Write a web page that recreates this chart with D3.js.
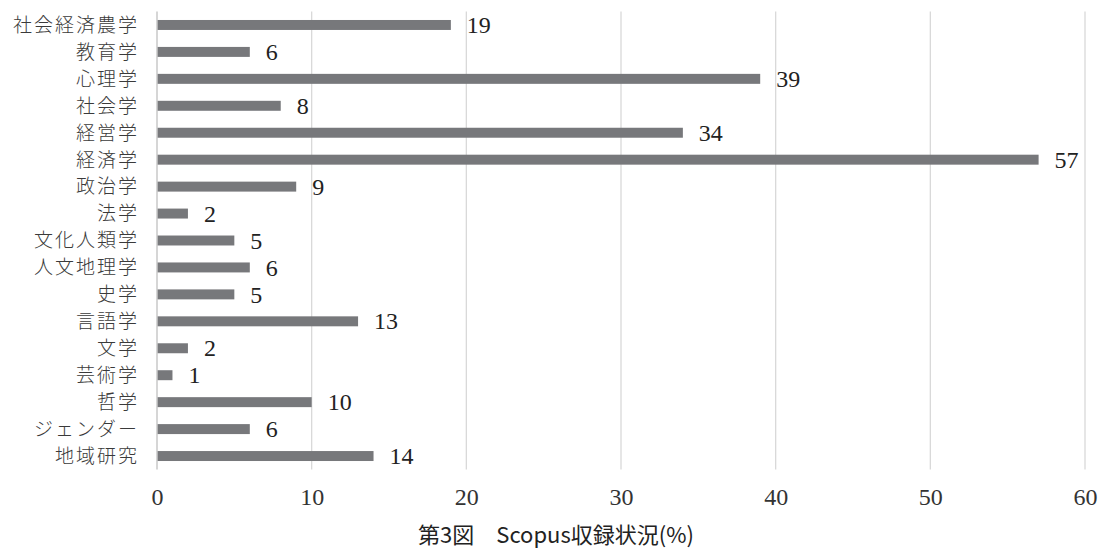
<!DOCTYPE html>
<html>
<head>
<meta charset="utf-8">
<script src="https://cdn.jsdelivr.net/npm/d3@7"></script>
<style>
  html, body { margin: 0; padding: 0; background: #fff; }
  svg { display: block; }
  .tick text { font-family: 'Liberation Serif', 'DejaVu Serif', serif !important; }
</style>
</head>
<body>
<svg id="chart" width="1099" height="549"></svg>
<script>
// Scopus coverage by field (%)
const categories = [
  "社会経済農学", "教育学", "心理学", "社会学", "経営学", "経済学", "政治学",
  "法学", "文化人類学", "人文地理学", "史学", "言語学", "文学", "芸術学",
  "哲学", "ジェンダー", "地域研究"
];
const values = [19, 6, 39, 8, 34, 57, 9, 2, 5, 6, 5, 13, 2, 1, 10, 6, 14];
const tickValues = [0, 10, 20, 30, 40, 50, 60];
const title = "第3図　Scopus収録状況(%)";

const svg = d3.select("#chart");
const margin = { left: 157, right: 14, top: 11.5, bottom: 79.5 };
const W = 1099, H = 549;

const x = d3.scaleLinear().domain([0, 60]).range([margin.left, W - margin.right]);
const y = d3.scaleBand().domain(categories).range([margin.top, H - margin.bottom]).paddingInner(0.63).paddingOuter(0.315);

const serif = "'Liberation Serif', 'DejaVu Serif', serif";
const jp = "'Noto Sans CJK JP', sans-serif";

// vertical gridlines
svg.append("g")
  .selectAll("line")
  .data(tickValues.filter(d => d > 0))
  .join("line")
  .attr("x1", d => x(d)).attr("x2", d => x(d))
  .attr("y1", margin.top).attr("y2", H - margin.bottom)
  .attr("stroke", "#d9d9d9").attr("stroke-width", 1.3);

// bars
svg.append("g")
  .selectAll("rect")
  .data(values)
  .join("rect")
  .attr("x", x(0))
  .attr("y", (d, i) => y(categories[i]))
  .attr("width", d => x(d) - x(0))
  .attr("height", y.bandwidth())
  .attr("fill", "#77787b");

// baseline axis
svg.append("line")
  .attr("x1", x(0)).attr("x2", x(0))
  .attr("y1", margin.top).attr("y2", H - margin.bottom)
  .attr("stroke", "#c8c8c8").attr("stroke-width", 1.5);

// value labels
svg.append("g")
  .selectAll("text")
  .data(values)
  .join("text")
  .attr("x", d => x(d) + 16)
  .attr("y", (d, i) => y(categories[i]) + y.bandwidth() / 2)
  .attr("dy", "0.34em")
  .style("font-family", serif)
  .style("font-size", "24px")
  .attr("fill", "#222")
  .text(d => d);

// category labels
svg.append("g")
  .selectAll("text")
  .data(categories)
  .join("text")
  .attr("x", 139)
  .attr("y", d => y(d) + y.bandwidth() / 2)
  .attr("dy", "0.36em")
  .attr("text-anchor", "end")
  .style("font-family", jp)
  .style("font-size", "19px")
  .style("font-weight", 300)
  .style("letter-spacing", "2px")
  .attr("fill", "#3a3a3a")
  .text(d => d);

// x axis tick labels
const xAxis = d3.axisBottom(x).tickValues(tickValues).tickSize(0).tickPadding(0);
const gx = svg.append("g")
  .attr("transform", `translate(0, ${H - margin.bottom + 27.5})`)
  .call(xAxis)
  .attr("font-family", serif)
  .attr("font-size", 24);
gx.select(".domain").remove();
gx.selectAll("text")
  .style("font-family", serif)
  .style("font-size", "24px")
  .attr("fill", "#333")
  .attr("y", 0)
  .attr("dy", "0.34em");

// chart title
svg.append("text")
  .attr("x", 556)
  .attr("y", 535)
  .attr("dy", "0.35em")
  .attr("text-anchor", "middle")
  .style("font-family", jp)
  .style("font-size", "22px")
  .attr("fill", "#222")
  .text(title);
</script>
</body>
</html>
